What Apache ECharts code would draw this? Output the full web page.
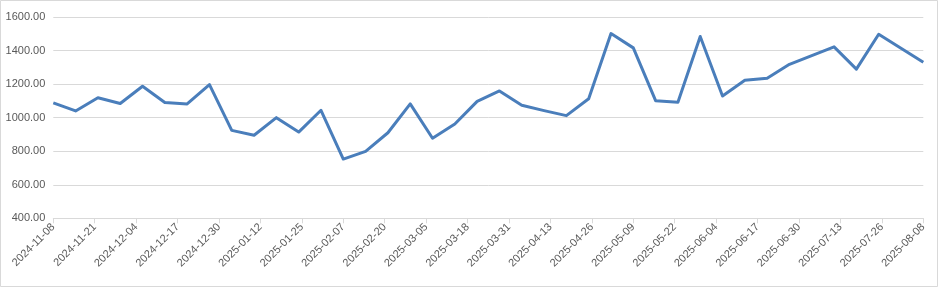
<!DOCTYPE html>
<html>
<head>
<meta charset="utf-8">
<script src="https://cdn.jsdelivr.net/npm/echarts@6/dist/echarts.min.js"></script>
<style>
html,body{margin:0;padding:0;background:#fff;}
#chart{width:938px;height:287px;}
</style>
</head>
<body>
<div id="chart"></div>
<script>
const dates = [
  '2024-11-08','2024-11-15','2024-11-22','2024-11-29','2024-12-06','2024-12-13','2024-12-20','2024-12-27',
  '2025-01-03','2025-01-10','2025-01-17','2025-01-24','2025-01-31','2025-02-07','2025-02-14','2025-02-21',
  '2025-02-28','2025-03-07','2025-03-14','2025-03-21','2025-03-28','2025-04-04','2025-04-11','2025-04-18',
  '2025-04-25','2025-05-02','2025-05-09','2025-05-16','2025-05-23','2025-05-30','2025-06-06','2025-06-13',
  '2025-06-20','2025-06-27','2025-07-04','2025-07-11','2025-07-18','2025-07-25','2025-08-01','2025-08-08'
];
const values = [
  1088, 1040, 1119, 1084, 1187, 1090, 1082, 1197,
  924, 895, 1000, 914, 1044, 753, 799, 910,
  1082, 877, 962, 1097, 1159, 1074, 1042, 1012,
  1113, 1501, 1416, 1101, 1092, 1484, 1129, 1223,
  1235, 1318, 1370, 1422, 1289, 1497, 1414, 1330
];
const yTicks = [400, 600, 800, 1000, 1200, 1400, 1600];
const tickStepDays = 13;

const DAY = 86400000;
const t0 = Date.parse(dates[0] + 'T00:00:00Z');
const dayOf = s => Math.round((Date.parse(s + 'T00:00:00Z') - t0) / DAY);
const lastDay = dayOf(dates[dates.length - 1]);
const fmtDay = d => new Date(t0 + d * DAY).toISOString().slice(0, 10);

const chart = echarts.init(document.getElementById('chart'));
chart.setOption({
  animation: false,
  backgroundColor: '#fff',
  graphic: [{
    type: 'rect', silent: true, z: -1,
    shape: {x: 0.5, y: 0.5, width: 937, height: 286},
    style: {fill: 'none', stroke: '#d9d9d9', lineWidth: 1}
  }],
  grid: {left: 53.3, right: 14.7, top: 17, bottom: 68.7, containLabel: false, outerBoundsMode: 'none'},
  xAxis: {
    type: 'value',
    min: 0, max: lastDay, interval: tickStepDays,
    splitLine: {show: false},
    axisLine: {show: true, lineStyle: {color: '#d9d9d9', width: 1}},
    axisTick: {show: true, length: 5, lineStyle: {color: '#d9d9d9'}},
    axisLabel: {
      rotate: 45, margin: 7, color: '#595959', fontSize: 11,
      fontFamily: 'Liberation Sans, Arial, sans-serif',
      showMinLabel: true, showMaxLabel: true,
      formatter: v => fmtDay(v)
    }
  },
  yAxis: {
    type: 'value',
    min: yTicks[0], max: yTicks[yTicks.length - 1], interval: yTicks[1] - yTicks[0],
    axisLine: {show: false},
    axisTick: {show: false},
    splitLine: {lineStyle: {color: '#d9d9d9', width: 1}},
    axisLabel: {
      margin: 8, color: '#595959', fontSize: 11,
      fontFamily: 'Liberation Sans, Arial, sans-serif',
      formatter: v => v.toFixed(2)
    }
  },
  series: [{
    type: 'line',
    data: dates.map((d, i) => [dayOf(d), values[i]]),
    showSymbol: false,
    symbol: 'none',
    lineStyle: {color: '#4a7ebb', width: 3, join: 'round'},
    itemStyle: {color: '#4a7ebb'}
  }]
});
</script>
</body>
</html>
